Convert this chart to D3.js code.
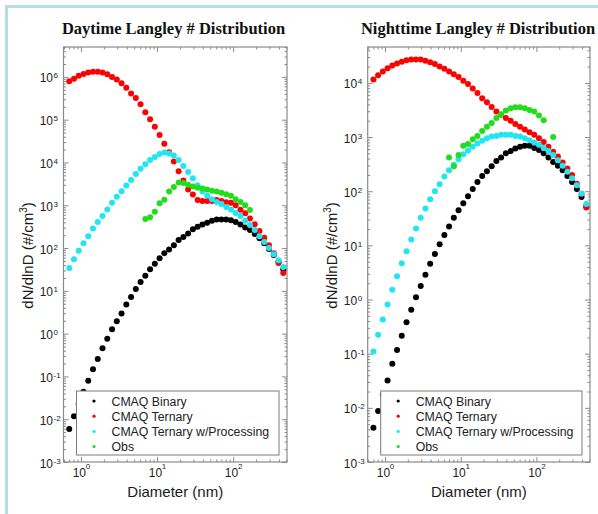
<!DOCTYPE html>
<html>
<head>
<meta charset="utf-8">
<script src="https://cdn.jsdelivr.net/npm/d3@7"></script>
<style>
  body { margin: 0; background: #fff; }
  svg { display: block; }
  .tick10 { font-family: "Liberation Sans", Arial, sans-serif; font-size: 12px; fill: #222; }
  .sup { font-family: "Liberation Sans", Arial, sans-serif; font-size: 8px; fill: #222; }
  .title { font-family: "Liberation Serif", "Times New Roman", serif; font-size: 16.5px; font-weight: bold; fill: #111; }
  .axis-title { font-family: "Liberation Sans", Arial, sans-serif; font-size: 15px; fill: #1a1a1a; }
  .legend-text { font-family: "Liberation Sans", Arial, sans-serif; font-size: 12.3px; fill: #222; }
</style>
</head>
<body>
<svg id="chart" width="598" height="514"></svg>
<script>
// particle diameter bins (nm), shared by all series
const diameter = [0.702, 0.810, 0.935, 1.080, 1.247, 1.440, 1.663, 1.921, 2.218, 2.562,
  2.958, 3.416, 3.945, 4.556, 5.260, 6.074, 7.015, 8.101, 9.354, 10.80,
  12.47, 14.40, 16.63, 19.21, 22.18, 25.62, 29.58, 34.16, 39.45, 45.56,
  52.60, 60.74, 70.15, 81.01, 93.54, 108.0, 124.7, 144.0, 166.3, 192.1,
  221.8, 256.2, 295.8, 341.6, 394.5, 455.6];

const dayBinary = [5.9e-3, 1.17e-2, 2.3e-2, 4.4e-2, 7.9e-2, 0.148, 0.257, 0.457, 0.76, 1.26,
  1.95, 2.95, 4.8, 7.2, 11, 16.2, 22.4, 32, 43, 58,
  76, 93, 117, 155, 182, 219, 275, 316, 355, 389,
  437, 468, 468, 468, 447, 407, 355, 302, 263, 214,
  170, 129, 95, 69, 48, 32];
const dayTernary = [7.9e5, 9.1e5, 1.07e6, 1.17e6, 1.26e6, 1.32e6, 1.32e6, 1.26e6, 1.15e6, 1.0e6,
  8.7e5, 7.1e5, 5.6e5, 4.1e5, 3.2e5, 2.3e5, 1.5e5, 1.02e5, 6.8e4, 4.4e4,
  2.75e4, 1.74e4, 1.05e4, 6.2e3, 3.8e3, 2.35e3, 1.78e3, 1.32e3, 1.26e3, 1.26e3,
  1.26e3, 1.32e3, 1.26e3, 1.17e3, 1.15e3, 1.0e3, 790, 650, 490, 360,
  250, 174, 117, 76, 45, 26];
const dayTernaryProc = [34, 55, 87, 129, 190, 288, 407, 562, 794, 1.15e3,
  1.58e3, 2.14e3, 2.9e3, 3.9e3, 5.4e3, 7.1e3, 9.1e3, 1.15e4, 1.35e4, 1.58e4,
  1.7e4, 1.62e4, 1.45e4, 1.15e4, 8.3e3, 6.0e3, 4.3e3, 2.95e3, 2.1e3, 1.66e3,
  1.38e3, 1.2e3, 1.07e3, 912, 794, 661, 562, 437, 347, 263,
  190, 138, 100, 72, 52, 36];
const dayObs = [null, null, null, null, null, null, null, null, null, null,
  null, null, null, null, null, null, 479, 525, 708, 1.12e3,
  1.35e3, 2.09e3, 2.69e3, 3.39e3, 3.31e3, 3.02e3, 2.75e3, 2.57e3, 2.45e3, 2.34e3,
  2.19e3, 2.09e3, 1.95e3, 1.82e3, 1.66e3, 1.38e3, 1.2e3, 1.0e3, 776, null,
  null, null, null, null, null, null];

const nightBinary = [4.3e-3, 8.7e-3, 1.74e-2, 3.2e-2, 6.5e-2, 0.117, 0.214, 0.38, 0.65, 1.1,
  1.78, 2.88, 4.57, 6.9, 10.5, 15.5, 22.4, 32.4, 44.7, 60,
  81, 110, 148, 191, 234, 288, 363, 417, 501, 550,
  617, 661, 692, 692, 631, 575, 501, 417, 347, 295,
  245, 191, 148, 110, 78, 52];
const nightTernary = [1.15e4, 1.38e4, 1.62e4, 1.86e4, 2.09e4, 2.29e4, 2.45e4, 2.63e4, 2.69e4, 2.69e4,
  2.69e4, 2.57e4, 2.4e4, 2.24e4, 2.0e4, 1.82e4, 1.62e4, 1.45e4, 1.29e4, 1.1e4,
  9.5e3, 7.9e3, 6.5e3, 5.2e3, 4.4e3, 3.6e3, 2.95e3, 2.57e3, 2.24e3, 2.0e3,
  1.74e3, 1.55e3, 1.38e3, 1.23e3, 1.1e3, 955, 813, 661, 537, 437,
  339, 263, 200, 138, 89, 50];
const nightTernaryProc = [0.11, 0.224, 0.427, 0.813, 1.51, 2.69, 4.68, 7.76, 12.9, 20.4,
  32.4, 47.9, 70.8, 100, 135, 186, 245, 309, 389, 479,
  562, 661, 759, 851, 955, 1.02e3, 1.05e3, 1.1e3, 1.1e3, 1.1e3,
  1.05e3, 1.02e3, 955, 871, 794, 724, 631, 550, 468, 372,
  295, 229, 174, 129, 91, 58];
const nightObs = [null, null, null, null, null, null, null, null, null, null,
  null, null, null, null, null, null, 417, 288, 468, 692,
  741, 912, 1.05e3, 1.29e3, 1.55e3, 1.82e3, 2.24e3, 2.63e3, 3.09e3, 3.39e3,
  3.55e3, 3.55e3, 3.39e3, 3.16e3, 2.95e3, 2.5e3, 2.04e3, null, 1.0e3, null,
  null, null, null, null, null, null];

const seriesNames = ['CMAQ Binary', 'CMAQ Ternary', 'CMAQ Ternary w/Processing', 'Obs'];
const seriesColors = ['#000000', '#ff0000', '#22e5f2', '#22dd1e'];
const panelTitles = ['Daytime Langley # Distribution', 'Nighttime Langley # Distribution'];
const xTickExps = [0, 1, 2];
const dayYTickExps = [-3, -2, -1, 0, 1, 2, 3, 4, 5, 6];
const nightYTickExps = [-3, -2, -1, 0, 1, 2, 3, 4];

const svg = d3.select('#chart');

// light blue frame on the left and top edge
svg.append('rect').attr('x', 5).attr('y', 5).attr('width', 3).attr('height', 509).attr('fill', '#b5dde4');
svg.append('rect').attr('x', 5).attr('y', 5).attr('width', 593).attr('height', 3).attr('fill', '#b5dde4');

function minorTicks(lo, hi) {
  const out = [];
  for (let e = -4; e <= 7; e++) {
    for (let m = 2; m <= 9; m++) {
      const v = m * Math.pow(10, e);
      if (v >= lo && v <= hi) out.push(v);
    }
  }
  return out;
}

function styleAxis(sel) {
  sel.select('.domain').remove();
  sel.selectAll('line').attr('stroke', '#8a8a8a');
}

function drawPanel(cfg) {
  const g = svg.append('g');
  const x = d3.scaleLog().domain([0.59, 510]).range([cfg.left, cfg.right]);
  const y = d3.scaleLog().domain([1e-3, cfg.yMax]).range([cfg.bottom, cfg.top]);

  const xMajor = xTickExps.map(e => Math.pow(10, e));
  const yMajor = cfg.yExps.map(e => Math.pow(10, e));
  const xMinor = minorTicks(0.59, 510);
  const yMinor = minorTicks(1e-3, cfg.yMax);

  const axes = [
    [d3.axisBottom, x, `translate(0,${cfg.bottom})`, xMajor, xMinor],
    [d3.axisTop, x, `translate(0,${cfg.top})`, xMajor, xMinor],
    [d3.axisLeft, y, `translate(${cfg.left},0)`, yMajor, yMinor],
    [d3.axisRight, y, `translate(${cfg.right},0)`, yMajor, yMinor]
  ];
  axes.forEach(([axisFn, scale, tr, major, minor]) => {
    g.append('g').attr('transform', tr)
      .call(axisFn(scale).tickValues(minor).tickSize(-2.5).tickFormat(''))
      .call(styleAxis);
    g.append('g').attr('transform', tr)
      .call(axisFn(scale).tickValues(major).tickSize(-5).tickFormat(''))
      .call(styleAxis);
  });

  g.append('rect')
    .attr('x', cfg.left).attr('y', cfg.top)
    .attr('width', cfg.right - cfg.left).attr('height', cfg.bottom - cfg.top)
    .attr('fill', 'none').attr('stroke', '#8a8a8a').attr('stroke-width', 1.2);

  // tick labels as 10 with a raised exponent
  cfg.yExps.forEach(e => {
    const yy = y(Math.pow(10, e));
    g.append('text').attr('class', 'tick10')
      .attr('x', cfg.left - 10.5).attr('y', yy + 5.5)
      .attr('text-anchor', 'end').text('10');
    g.append('text').attr('class', 'sup')
      .attr('x', cfg.left - 10).attr('y', yy + 1.5).text(e);
  });
  xTickExps.forEach(e => {
    const xx = x(Math.pow(10, e));
    g.append('text').attr('class', 'tick10')
      .attr('x', xx - 8.3).attr('y', cfg.bottom + 14.5).text('10');
    g.append('text').attr('class', 'sup')
      .attr('x', xx + 4.8).attr('y', cfg.bottom + 7).text(e);
  });

  g.append('text').attr('class', 'title')
    .attr('x', cfg.titleX).attr('y', 34)
    .attr('text-anchor', 'middle').text(cfg.title);

  g.append('text').attr('class', 'axis-title')
    .attr('x', (cfg.left + cfg.right) / 2).attr('y', 497)
    .attr('text-anchor', 'middle').text('Diameter (nm)');

  const yt = g.append('text').attr('class', 'axis-title')
    .attr('font-size', '15.5px')
    .attr('transform', `translate(${cfg.left - 30.5},${(cfg.top + cfg.bottom) / 2 + 1}) rotate(-90)`)
    .attr('text-anchor', 'middle');
  yt.append('tspan').text('dN/dlnD (#/cm');
  yt.append('tspan').attr('font-size', '10px').attr('dy', -6).text('3');
  yt.append('tspan').attr('dy', 6).text(')');

  cfg.series.forEach((values, i) => {
    const pts = diameter.map((d, k) => ({ d: d, v: values[k] })).filter(p => p.v != null);
    g.append('g').selectAll('circle')
      .data(pts)
      .enter().append('circle')
      .attr('cx', p => x(p.d))
      .attr('cy', p => y(p.v))
      .attr('r', 3)
      .attr('fill', seriesColors[i]);
  });

  // legend box in the lower part of the plot
  const lx = cfg.left + 13;
  const ly = cfg.bottom - 71;
  const legend = g.append('g');
  legend.append('rect')
    .attr('x', lx).attr('y', ly)
    .attr('width', cfg.right - cfg.left - 21).attr('height', 64)
    .attr('fill', '#fff').attr('stroke', '#7a7a7a').attr('stroke-width', 1);
  seriesNames.forEach((name, i) => {
    const cy = ly + 10 + i * 15.2;
    legend.append('circle')
      .attr('cx', lx + 17.5).attr('cy', cy).attr('r', 1.6)
      .attr('fill', seriesColors[i]);
    legend.append('text').attr('class', 'legend-text')
      .attr('x', lx + 35).attr('y', cy + 4.5).text(name);
  });
}

drawPanel({
  left: 63.5, right: 287, top: 47, bottom: 462, yMax: 5e6,
  yExps: dayYTickExps, title: panelTitles[0], titleX: 173.5,
  series: [dayBinary, dayTernary, dayTernaryProc, dayObs]
});
drawPanel({
  left: 367.7, right: 590, top: 47, bottom: 462, yMax: 4.6e4,
  yExps: nightYTickExps, title: panelTitles[1], titleX: 478,
  series: [nightBinary, nightTernary, nightTernaryProc, nightObs]
});
</script>
</body>
</html>
